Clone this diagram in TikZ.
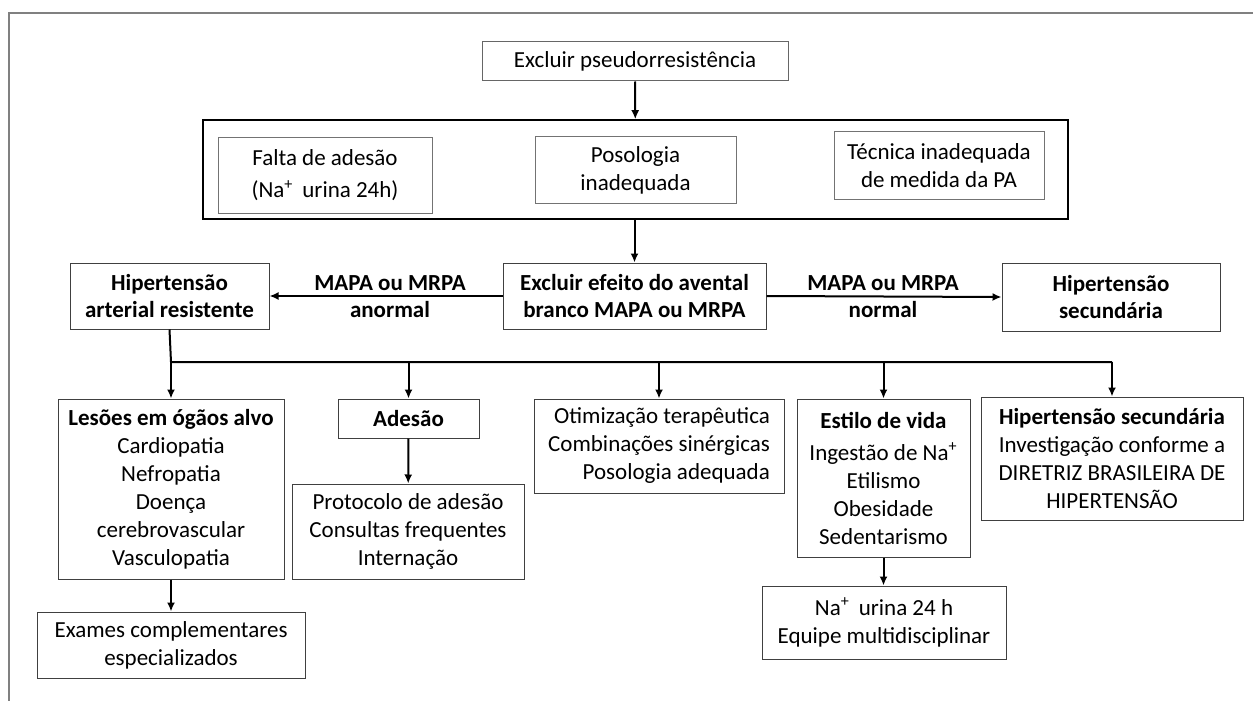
\documentclass[tikz,border=0pt]{standalone}
\usepackage{fontspec}
\setmainfont{Carlito}
\usetikzlibrary{arrows.meta}

\begin{document}
\begin{tikzpicture}[x=0.5pt,y=-0.5pt]
        \tikzset{box/.style = {draw=black!75, line width=0.5pt, align=center, inner sep=0pt,
                font=\fontsize{11.5pt}{14pt}\selectfont}}
        \tikzset{inbox/.style = {box, draw=black!55}}
        \tikzset{bbox/.style = {box, font=\fontsize{11.5pt}{13.5pt}\selectfont\bfseries}}
        \tikzset{lab/.style = {align=center, inner sep=0pt, font=\fontsize{11.5pt}{13.5pt}\selectfont\bfseries}}
        \tikzset{arr/.style = {-{Latex[length=4.5pt,width=4pt]}, line width=1pt}}
        \useasboundingbox (0,0) rectangle (1253,701);
        % frame
        \draw[black!50, line width=1pt] (8.5,701) -- (8.5,12.7) -- (1253,12.7);
        % pseudoresistance
        \node[box, draw=black!60, minimum width=153pt, minimum height=19.5pt] (pseudo) at (635,61.5) {Excluir pseudorresistência};
        \node[box, draw=black, line width=0.8pt, minimum width=432.5pt, minimum height=49.5pt] (causas) at (635.5,169.5) {};
        \node[inbox, minimum width=107pt, minimum height=37.5pt] (falta) at (325,175.5) {Falta de adesão\\[2pt](Na\textsuperscript{+}\, urina 24h)};
        \node[inbox, minimum width=100.5pt, minimum height=33pt] (poso) at (635.5,170) {Posologia\\inadequada};
        \node[inbox, minimum width=105pt, minimum height=33.5pt] (tecnica) at (939,165.5) {Técnica inadequada\\de medida da PA};
        \draw[arr] (pseudo) -- (causas);
        % white coat effect
        \node[bbox, minimum width=99.5pt, minimum height=33pt] (hipres) at (169.5,296) {Hipertensão\\arterial resistente};
        \node[bbox, minimum width=131.5pt, minimum height=33pt] (efeito) at (634.5,296) {Excluir efeito do avental\\branco MAPA ou MRPA};
        \node[bbox, minimum width=109pt, minimum height=34pt] (hipsec) at (1111,297) {Hipertensão\\secundária};
        \node[lab] (anormal) at (390,296.5) {MAPA ou MRPA\\anormal};
        \node[lab] (normal) at (883,296.5) {MAPA ou MRPA\\normal};
        \draw[arr] (causas.south -| efeito.north) -- (efeito.north);
        \draw[arr] (efeito.west) -- (hipres.east);
        \draw[arr] (efeito.east) -- (hipsec.west);
        % management
        \node[box, minimum width=113pt, minimum height=90pt] (lesoes) at (171,489) {\textbf{Lesões em ógãos alvo}\\Cardiopatia\\Nefropatia\\Doença\\cerebrovascular\\Vasculopatia};
        \node[bbox, minimum width=70.5pt, minimum height=19.5pt] (adesao) at (408.5,418.5) {Adesão};
        \node[box, minimum width=125pt, minimum height=47pt, align=right] (otim) at (659,446) {Otimização terapêutica\\Combinações sinérgicas\\Posologia adequada};
        \node[box, minimum width=86.5pt, minimum height=79pt] (estilo) at (883.5,478) {\textbf{Estilo de vida}\\[2pt]Ingestão de Na\textsuperscript{+}\\Etilismo\\Obesidade\\Sedentarismo};
        \node[box, minimum width=131pt, minimum height=61.5pt] (hipsec2) at (1112,458.5) {\textbf{Hipertensão secundária}\\Investigação conforme a\\DIRETRIZ BRASILEIRA DE\\HIPERTENSÃO};
        \node[box, minimum width=134pt, minimum height=33pt] (exames) at (171,645) {Exames complementares\\especializados};
        \node[box, minimum width=116pt, minimum height=47.5pt] (protocolo) at (408,531.5) {Protocolo de adesão\\Consultas frequentes\\Internação};
        \node[box, minimum width=122pt, minimum height=36.5pt] (naurina) at (884,622.5) {Na\textsuperscript{+}\, urina 24 h\\Equipe multidisciplinar};
        \coordinate (bl) at (171,362);
        \coordinate (br) at (1112,362);
        \draw[line width=1pt] (hipres.south) -- (bl) -- (br);
        \draw[arr] (bl) -- (lesoes.north);
        \draw[arr] (bl -| adesao.north) -- (adesao.north);
        \draw[arr] (bl -| otim.north) -- (otim.north);
        \draw[arr] (bl -| estilo.north) -- (estilo.north);
        \draw[arr] (br) -- (hipsec2.north);
        \draw[arr] (lesoes) -- (exames);
        \draw[arr] (adesao) -- (protocolo);
        \draw[arr] (estilo.south) -- (estilo.south |- naurina.north);
\end{tikzpicture}
\end{document}
